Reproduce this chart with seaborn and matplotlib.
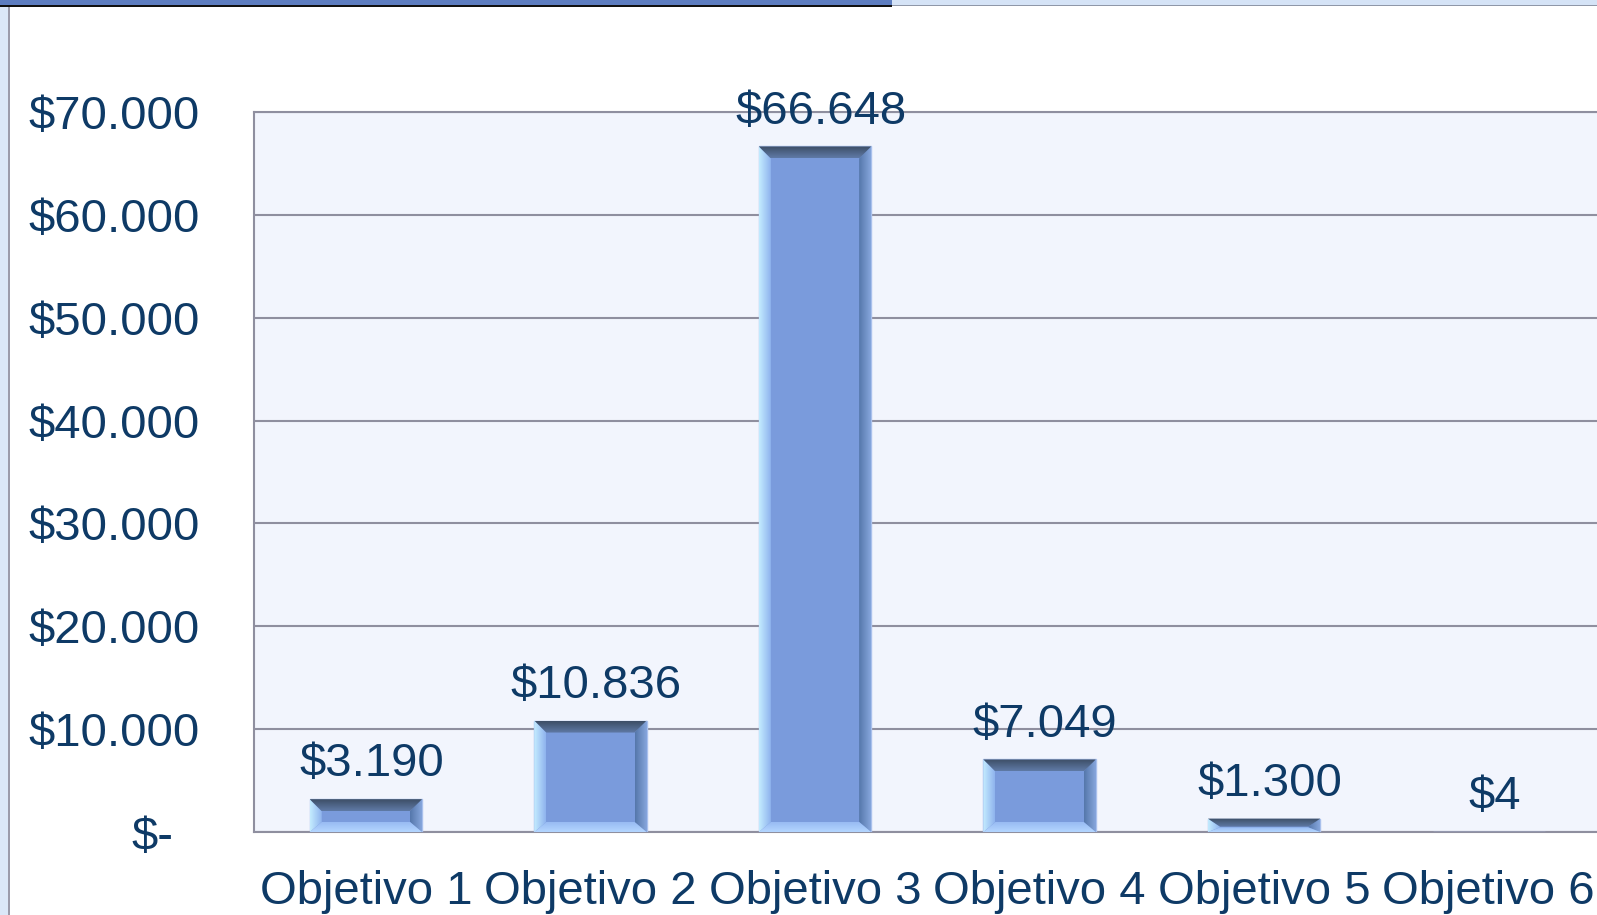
import numpy as np
import matplotlib
matplotlib.use("Agg")
import matplotlib.pyplot as plt
from matplotlib.patches import Polygon, Rectangle
from matplotlib.colors import LinearSegmentedColormap
import seaborn as sns

# ── Data ───────────────────────────────────────────────────────
objetivos = ["Objetivo 1", "Objetivo 2", "Objetivo 3",
             "Objetivo 4", "Objetivo 5", "Objetivo 6"]
montos = [3190, 10836, 66648, 7049, 1300, 4]
y_ticks = [0, 10000, 20000, 30000, 40000, 50000, 60000, 70000]

txt_color = "#0e3a66"
bar_color = "#7a9bdc"
grid_color = "#8f8f9f"

sns.set_style("white")
plt.rcParams["font.family"] = ["Liberation Sans", "DejaVu Sans"]


def pesos(v):
    return "$" + f"{v:,.0f}".replace(",", ".")


def grad_poly(ax, pts, c_out, c_in, vertical):
    # fill a bevel facet with a linear gradient (outer edge -> inner edge)
    xs = [p[0] for p in pts]
    ys = [p[1] for p in pts]
    cmap = LinearSegmentedColormap.from_list("g", [c_out, c_in])
    g = np.linspace(0, 1, 64)
    arr = g[:, None] if vertical else g[None, :]
    if vertical == "top":
        arr = arr  # row 0 drawn at top with origin='upper'
    elif vertical == "bottom":
        arr = arr[::-1]
    elif vertical is False and c_out is not None and pts[0][0] > pts[2][0]:
        arr = arr[:, ::-1]
    patch = Polygon(pts, closed=True, facecolor="none", edgecolor="none")
    ax.add_patch(patch)
    im = ax.imshow(arr, cmap=cmap, extent=(min(xs), max(xs), min(ys), max(ys)),
                   aspect="auto", origin="upper", zorder=4,
                   interpolation="bilinear")
    im.set_clip_path(patch)


W, H = 1597, 915
fig = plt.figure(figsize=(W / 100, H / 100), dpi=100)
ax_left, ax_right, ax_top, ax_bot = 253.6, 1601, 112, 832
ax = fig.add_axes([ax_left / W, 1 - ax_bot / H,
                   (ax_right - ax_left) / W, (ax_bot - ax_top) / H])
ax.set_facecolor("#f2f5fd")

sns.barplot(x=objetivos, y=montos, color=bar_color, width=0.5,
            saturation=1, edgecolor="#a9c0ec", linewidth=1, ax=ax, zorder=3)

# bevel effect on each bar, built from the drawn patches
ax_w_px = ax_right - ax_left
ax_h_px = ax_bot - ax_top
bev = 12
dx = bev / ax_w_px * 6
for p in list(ax.patches):
    x0, w, h = p.get_x(), p.get_width(), p.get_height()
    h_px = h / 70000 * ax_h_px
    if h_px < 2:
        continue
    dy_top = min(bev, h_px * 0.6) / ax_h_px * 70000
    dy_bot = min(bev - 2, h_px * 0.35) / ax_h_px * 70000
    x1, y1 = x0 + w, h
    top = [(x0, y1), (x1, y1), (x1 - dx, y1 - dy_top), (x0 + dx, y1 - dy_top)]
    bot = [(x0, 0), (x1, 0), (x1 - dx, dy_bot), (x0 + dx, dy_bot)]
    left = [(x0, 0), (x0, y1), (x0 + dx, y1 - dy_top), (x0 + dx, dy_bot)]
    right = [(x1, 0), (x1, y1), (x1 - dx, y1 - dy_top), (x1 - dx, dy_bot)]
    grad_poly(ax, left, "#c4ecff", "#8fb3ee", False)
    grad_poly(ax, [right[2], right[3], right[0], right[1]],
              "#5577ab", "#86a6dc", False)
    grad_poly(ax, bot, "#b4d6ff", "#98bbf3", "bottom")
    grad_poly(ax, top, "#3d4e66", "#5f7aa6", "top")

ax.set_xlim(-0.5, 5.5)
ax.set_ylim(0, 70000)
ax.set_yticks(y_ticks)
ax.set_yticklabels(["" if v == 0 else pesos(v) for v in y_ticks])
ax.annotate("$-", xy=(0, 0), xycoords=("axes fraction", "data"),
            xytext=(-58, -4), textcoords="offset points",
            ha="right", va="center", fontsize=34, color=txt_color)
ax.tick_params(axis="y", length=0, pad=39, labelsize=34, labelcolor=txt_color)
ax.tick_params(axis="x", length=0, pad=27, labelsize=34, labelcolor=txt_color)
ax.set_xlabel("")
ax.set_ylabel("")
ax.grid(axis="y", color=grid_color, linewidth=1.5, zorder=0)
ax.set_axisbelow(True)
for side in ["left", "top", "bottom", "right"]:
    ax.spines[side].set_color(grid_color)
    ax.spines[side].set_linewidth(1.5)

# data labels
for i, v in enumerate(montos):
    ax.annotate(pesos(v), xy=(i, v), xytext=(4, 25),
                textcoords="offset points", ha="center", va="center",
                fontsize=34, color=txt_color, zorder=5)

# window chrome of the screenshot
fig.patches.append(Rectangle((0, 0), 8 / W, 1, transform=fig.transFigure,
                             facecolor="#dbe7f8", edgecolor="none"))
fig.patches.append(Rectangle((8 / W, 0), 1.5 / W, 1 - 6 / H,
                             transform=fig.transFigure,
                             facecolor="#9b9bab", edgecolor="none"))
fig.patches.append(Rectangle((0, 1 - 5 / H), 1, 5 / H,
                             transform=fig.transFigure,
                             facecolor="#d5e3f6", edgecolor="none"))
fig.patches.append(Rectangle((0, 1 - 6 / H), 1, 1.5 / H,
                             transform=fig.transFigure,
                             facecolor="#8f97a8", edgecolor="none"))
fig.patches.append(Rectangle((0, 1 - 5 / H), 892 / W, 5 / H,
                             transform=fig.transFigure,
                             facecolor="#5d7dc0", edgecolor="none"))
fig.patches.append(Rectangle((0, 1 - 7 / H), 892 / W, 2 / H,
                             transform=fig.transFigure,
                             facecolor="#111111", edgecolor="none"))

fig.savefig("out.png", dpi=100)
